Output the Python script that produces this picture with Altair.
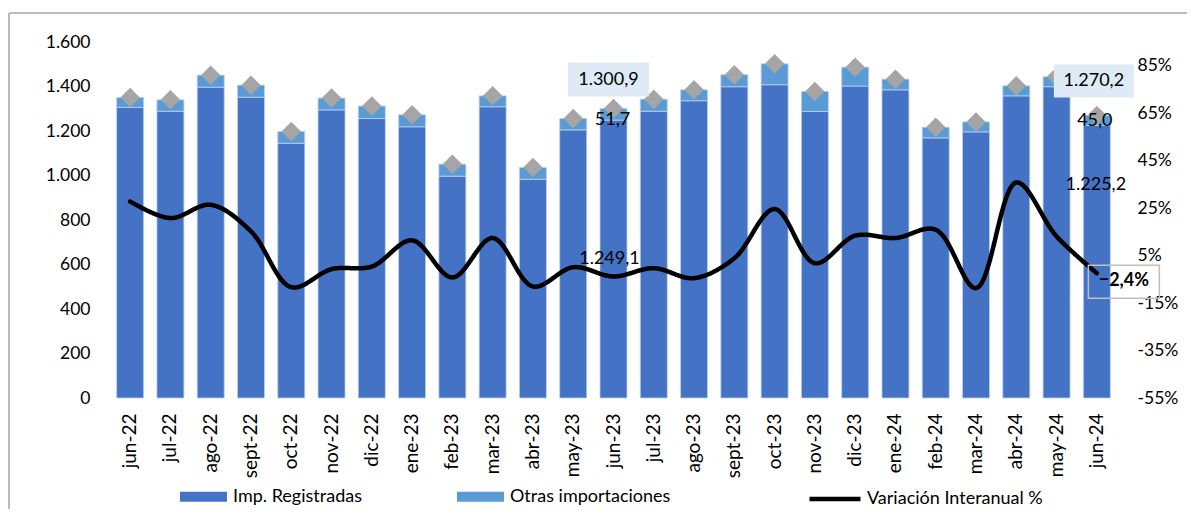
import altair as alt
import pandas as pd

FONT = "Lato"

meses = ["jun-22", "jul-22", "ago-22", "sept-22", "oct-22", "nov-22", "dic-22",
         "ene-23", "feb-23", "mar-23", "abr-23", "may-23", "jun-23", "jul-23",
         "ago-23", "sept-23", "oct-23", "nov-23", "dic-23", "ene-24", "feb-24",
         "mar-24", "abr-24", "may-24", "jun-24"]
imp_registradas = [1306, 1289, 1397, 1352, 1145, 1295, 1256, 1219, 997, 1309, 983, 1205,
                   1249.1, 1289, 1336, 1399, 1408, 1288, 1402, 1385, 1169, 1196, 1358, 1399, 1225.2]
otras_imp = [45, 51, 54, 54, 53, 53, 56, 54, 54, 49, 53, 51,
             51.7, 54, 49, 54, 94, 90, 85, 48, 48, 45, 45, 45, 45.0]
totales = [1351, 1340, 1451, 1406, 1198, 1348, 1312, 1273, 1051, 1358, 1036, 1256,
           1300.9, 1343, 1385, 1453, 1502, 1378, 1487, 1433, 1217, 1241, 1403, 1444, 1270.2]
variacion = [27.8, 20.8, 26.4, 15.2, -8.3, -0.7, 0.4, 11.4, -4.2, 12.4, -8.0, 0.1,
             -3.8, -0.3, -4.5, 3.9, 24.6, 1.8, 13.4, 12.4, 15.9, -8.7, 35.8, 13.1, -2.4]

serie_names = ["Imp. Registradas", "Otras importaciones"]
serie_colors = ["#4472C4", "#5B9BD5"]
line_name = "Variación Interanual %"
left_ticks = [0, 200, 400, 600, 800, 1000, 1200, 1400, 1600]
right_ticks = [-55, -35, -15, 5, 25, 45, 65, 85]

df = pd.DataFrame({"mes": meses, "imp": imp_registradas, "otras": otras_imp,
                   "total": totales, "var": variacion})
df["half"] = df["imp"] / 2
df["linea"] = line_name

long_rows = []
for m, a, b in zip(meses, imp_registradas, otras_imp):
    long_rows.append({"mes": m, "serie": serie_names[0], "valor": a, "orden": 0})
    long_rows.append({"mes": m, "serie": serie_names[1], "valor": b, "orden": 1})
df_long = pd.DataFrame(long_rows)

ES_FMT = "replace(replace(replace(format({v}, ',.1f'), ',', '_'), '.', ','), '_', '.')"

X_AXIS = alt.Axis(title=None, labelAngle=270, labelAlign="right", labelBaseline="middle",
                  labelPadding=15, labelFontSize=19, labelFont=FONT, labelColor="black",
                  domain=False, ticks=False, grid=False)
X_SCALE = alt.Scale(paddingInner=0.33, paddingOuter=0.165)


def xenc():
    return alt.X("mes:N", sort=meses, scale=X_SCALE, axis=X_AXIS)


LEFT_AXIS = alt.Axis(orient="left", values=left_ticks, title=None, domain=False, ticks=False, grid=False,
                     labelExpr="replace(format(datum.value, ',d'), ',', '.')",
                     labelPadding=20, labelFontSize=17.5, labelFont=FONT, labelColor="black")
LEFT_SCALE = alt.Scale(domain=[0, 1600], nice=False, zero=True)

RIGHT_AXIS = alt.Axis(orient="right", values=right_ticks, title=None, domain=False, ticks=False, grid=False,
                      labelExpr="datum.value + '%'", labelPadding=20, labelFontSize=17.5,
                      labelFont=FONT, labelColor="black")
RIGHT_SCALE = alt.Scale(domain=[-55, 95], nice=False, zero=False)


def yleft(field, **kw):
    return alt.Y(field + ":Q", scale=LEFT_SCALE, axis=LEFT_AXIS, **kw)


def yright(field):
    return alt.Y(field + ":Q", scale=RIGHT_SCALE, axis=RIGHT_AXIS)


bars = alt.Chart(df_long).mark_bar(stroke="#BDD0EE", strokeWidth=0.8).encode(
    x=xenc(),
    y=yleft("valor", stack="zero"),
    color=alt.Color("serie:N", scale=alt.Scale(domain=serie_names, range=serie_colors),
                    legend=alt.Legend(title=None, orient="none", legendX=70, legendY=431,
                                      direction="horizontal", symbolType="M-1,-0.21H1V0.21H-1Z",
                                      symbolSize=2209, symbolStrokeWidth=0, symbolOpacity=1,
                                      labelFontSize=18, labelFont=FONT, labelColor="black",
                                      labelLimit=400, columnPadding=95, labelOffset=6, padding=0)),
    order=alt.Order("orden:Q", sort="ascending"),
)

diamonds = alt.Chart(df).mark_point(shape="diamond", filled=True, size=380, color="#A5A5A5", opacity=1).encode(
    x=xenc(), y=yleft("total"))


def sel(month):
    return alt.Chart(df).transform_filter(alt.datum.mes == month)


def box(month, width, xoff, y0, y1):
    return sel(month).mark_bar(width=width, xOffset=xoff, yOffset=y0, y2Offset=y1,
                               fill="#DEEBF7").encode(
        x=xenc(), y=yleft("total"), y2="total:Q")


def label(month, field, value_field, dx, dy):
    return sel(month).transform_calculate(txt=ES_FMT.format(v="datum." + value_field)).mark_text(
        dx=dx, dy=dy, fontSize=18, font=FONT, color="black").encode(
        x=xenc(), y=yleft(field), text="txt:N")


left_group = alt.layer(
    bars, diamonds,
    box("jun-23", 81, -5, -46, -12),
    label("jun-23", "total", "total", -5, -29),
    label("jun-23", "imp", "otras", -1, 0),
    label("jun-23", "half", "imp", -4, 0),
    box("jun-24", 80, -3, -51, -18),
    label("jun-24", "total", "total", -3, -34),
    label("jun-24", "imp", "otras", -2, -4),
    label("jun-24", "imp", "imp", -1, 60),
)

line = alt.Chart(df).mark_line(color="black", strokeWidth=4.5, interpolate="catmull-rom",
                               strokeCap="round").encode(
    x=xenc(),
    y=yright("var"),
    strokeDash=alt.StrokeDash("linea:N", scale=alt.Scale(domain=[line_name], range=[[1, 0]]),
                              legend=alt.Legend(title=None, orient="none", legendX=697, legendY=429,
                                                symbolType="stroke", symbolSize=2601,
                                                symbolStrokeWidth=4.5, symbolStrokeColor="black",
                                                labelFontSize=18, labelFont=FONT, labelColor="black",
                                                labelLimit=400, labelOffset=4, padding=0)),
)

pct_box = sel("jun-24").mark_bar(width=71, xOffset=27, yOffset=-8, y2Offset=25, fillOpacity=0,
                                 fill="white", stroke="#BFBFBF", strokeWidth=1.5).encode(
    x=xenc(), y=yright("var"), y2="var:Q")

pct_label = sel("jun-24").transform_calculate(
    txt="replace(format(datum.var, '.1f'), '.', ',') + '%'").mark_text(
    dx=27, dy=8, fontSize=18, font=FONT, fontWeight="bold", color="black").encode(
    x=xenc(), y=yright("var"), text="txt:N")

right_group = alt.layer(line, pct_box, pct_label)

frame_df = pd.DataFrame({"k": [0]})
frame_top = alt.Chart(frame_df).mark_rule(color="#A6A6A6", strokeWidth=1.5).encode(
    x=alt.value(-101), x2=alt.value(1100), y=alt.value(-29))
frame_left = alt.Chart(frame_df).mark_rule(color="#A6A6A6", strokeWidth=1.5).encode(
    x=alt.value(-101), y=alt.value(-29), y2=alt.value(470))

chart = alt.layer(left_group, right_group, frame_top, frame_left).resolve_scale(
    y="independent"
).properties(
    width=1007, height=356,
    padding={"left": 102, "top": 34, "right": 70, "bottom": 111},
    autosize=alt.AutoSizeParams(type="none"),
    background="white",
).configure_view(stroke=None)

chart.save("out.html", embed_options={"renderer": "svg", "actions": False})
